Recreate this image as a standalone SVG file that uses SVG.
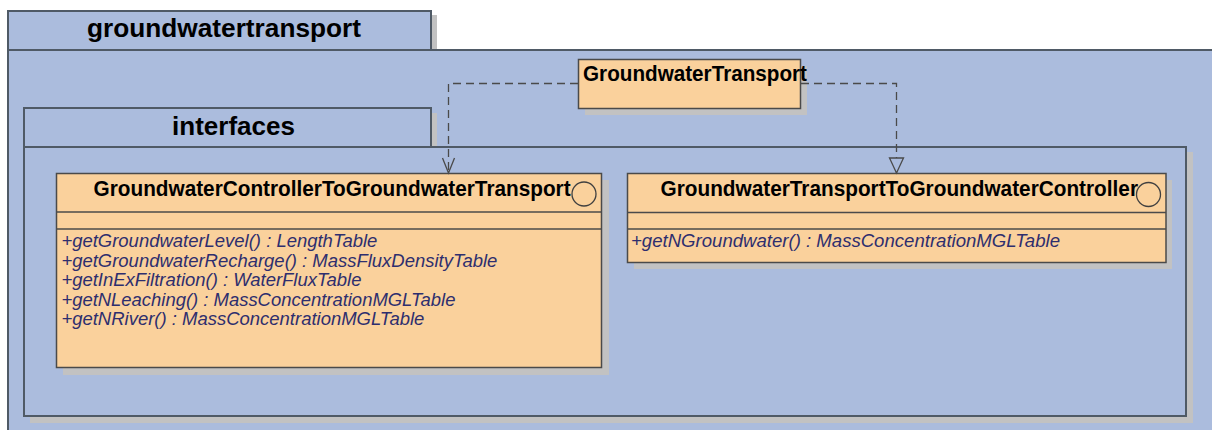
<svg xmlns="http://www.w3.org/2000/svg" width="1212" height="430" viewBox="0 0 1212 430">
<style>
.pkg{fill:#abbcdd;stroke:#4f5a66;stroke-width:2}
.shadow{fill:#c2c2c2}
.cls{fill:#fad19c;stroke:#4a4a4a;stroke-width:1.5}
.sep{stroke:#4a4a4a;stroke-width:1.5}
.circ{fill:#fad19c;stroke:#404040;stroke-width:1.3}
.ptitle{font-family:"Liberation Sans",Arial,sans-serif;font-weight:bold;font-size:26px;fill:#000}
.cname{font-family:"Liberation Sans",Arial,sans-serif;font-weight:bold;font-size:22px;fill:#000}
.op{font-family:"Liberation Sans",Arial,sans-serif;font-style:italic;font-size:18px;fill:#2e2e6e}
.dep{fill:none;stroke:#4a4a4a;stroke-width:1.3;stroke-dasharray:8,5}
</style>
<defs>
<marker id="open" viewBox="-16 -8 18 16" markerWidth="18" markerHeight="16" refX="0" refY="0" orient="auto" markerUnits="userSpaceOnUse">
<path d="M-15,-6 L0,0 L-15,6" fill="none" stroke="#4a4a4a" stroke-width="1.3"/>
</marker>
<marker id="tri" viewBox="-17 -9 19 18" markerWidth="19" markerHeight="18" refX="0" refY="0" orient="auto" markerUnits="userSpaceOnUse">
<path d="M0,0 L-15,-7 L-15,7 Z" fill="#abbcdd" stroke="#4a4a4a" stroke-width="1.3"/>
</marker>
</defs>
<rect width="1212" height="430" fill="#ffffff"/>

<g id="pkg-groundwatertransport">
<rect class="shadow" x="431" y="15" width="6" height="35"/>
<rect class="pkg" x="8" y="11" width="423" height="39"/>
<rect class="pkg" x="8" y="50" width="1230" height="400"/>
<text class="ptitle" x="87" y="37" textLength="274" lengthAdjust="spacingAndGlyphs">groundwatertransport</text>
</g>

<g id="pkg-interfaces">
<rect class="shadow" x="30" y="152" width="1163" height="271"/>
<rect class="shadow" x="431" y="113" width="6" height="34"/>
<rect class="pkg" x="24" y="108" width="407" height="39"/>
<rect class="pkg" x="24" y="147" width="1162" height="269"/>
<text class="ptitle" x="172" y="135" textLength="123" lengthAdjust="spacingAndGlyphs">interfaces</text>
</g>

<g id="GroundwaterTransport">
<rect class="shadow" x="585" y="66" width="222" height="49"/>
<rect class="cls" x="578.5" y="59.5" width="222" height="49"/>
<text class="cname" x="583" y="81" textLength="224" lengthAdjust="spacingAndGlyphs">GroundwaterTransport</text>
</g>

<g id="GroundwaterControllerToGroundwaterTransport">
<rect class="shadow" x="63" y="180" width="546" height="195"/>
<rect class="cls" x="56.5" y="173.5" width="545" height="194"/>
<line class="sep" x1="56.5" y1="212" x2="601.5" y2="212"/>
<line class="sep" x1="56.5" y1="229" x2="601.5" y2="229"/>
<circle class="circ" cx="584" cy="194" r="12"/>
<text class="cname" x="93.6" y="196" textLength="477" lengthAdjust="spacingAndGlyphs">GroundwaterControllerToGroundwaterTransport</text>
<text class="op" x="61.4" y="247" textLength="316" lengthAdjust="spacingAndGlyphs">+getGroundwaterLevel() : LengthTable</text>
<text class="op" x="61.4" y="266.5" textLength="436" lengthAdjust="spacingAndGlyphs">+getGroundwaterRecharge() : MassFluxDensityTable</text>
<text class="op" x="61.4" y="286" textLength="300" lengthAdjust="spacingAndGlyphs">+getInExFiltration() : WaterFluxTable</text>
<text class="op" x="61.4" y="305.5" textLength="394" lengthAdjust="spacingAndGlyphs">+getNLeaching() : MassConcentrationMGLTable</text>
<text class="op" x="61.4" y="325" textLength="363" lengthAdjust="spacingAndGlyphs">+getNRiver() : MassConcentrationMGLTable</text>
</g>

<g id="GroundwaterTransportToGroundwaterController">
<rect class="shadow" x="634" y="180" width="538" height="89"/>
<rect class="cls" x="627.5" y="173.5" width="538.5" height="89"/>
<line class="sep" x1="627.5" y1="212.5" x2="1166" y2="212.5"/>
<line class="sep" x1="627.5" y1="229" x2="1166" y2="229"/>
<circle class="circ" cx="1148.5" cy="194.5" r="12"/>
<text class="cname" x="660.5" y="196" textLength="477.5" lengthAdjust="spacingAndGlyphs">GroundwaterTransportToGroundwaterController</text>
<text class="op" x="631" y="247" textLength="429" lengthAdjust="spacingAndGlyphs">+getNGroundwater() : MassConcentrationMGLTable</text>
</g>

<g id="connectors">
<path class="dep" d="M578,83.5 H448.5 V173" marker-end="url(#open)"/>
<path class="dep" d="M801,83.5 H896.5 V173" marker-end="url(#tri)"/>
</g>
</svg>
